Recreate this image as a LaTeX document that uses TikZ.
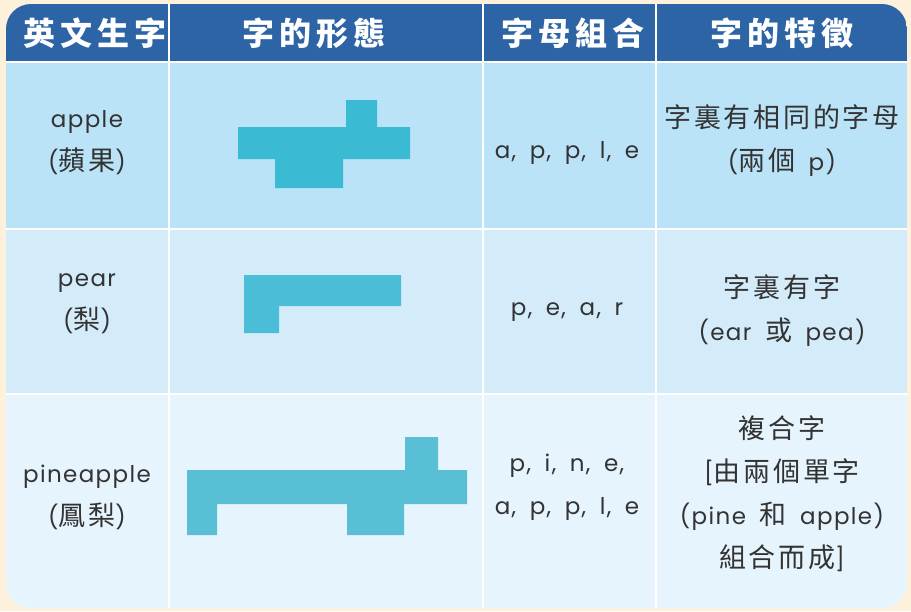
\documentclass[tikz,border=0pt]{standalone}
\usepackage{fontspec}
\setmainfont{Poppins}[LetterSpace=6, WordSpace=1.8]
\newfontfamily\cjk{Noto Sans CJK TC}[LetterSpace=10]
\newfontfamily\cjkhdr{Noto Sans CJK TC}[LetterSpace=15]
\newcommand\zh[1]{{\cjk\fontsize{27}{43}\selectfont #1}}
\definecolor{bgcream}{HTML}{FDF1DC}
\definecolor{hdrblue}{HTML}{2D64A5}
\definecolor{rowa}{HTML}{BBE3F8}
\definecolor{rowb}{HTML}{D4ECFA}
\definecolor{rowc}{HTML}{E6F5FD}
\definecolor{shapea}{HTML}{3BBAD4}
\definecolor{shapeb}{HTML}{4BBDD6}
\definecolor{shapec}{HTML}{58BFD4}
\definecolor{txt}{HTML}{333333}
\tikzset{
  hdr/.style={text=white, font=\cjkhdr\bfseries\fontsize{32}{36}\selectfont, inner sep=0pt},
  cell/.style={text=txt, align=center, inner sep=0pt, font=\fontsize{23}{43}\selectfont},
  sepline/.style={draw=white, line width=2pt}
}
\begin{document}
\begin{tikzpicture}[x=1pt,y=-1pt]
\useasboundingbox (0,0) rectangle (911,611);
\fill[bgcream] (0,0) rectangle (911,611);
\begin{scope}
\clip[rounded corners=25pt] (6,4) rectangle (907,608);
\fill[hdrblue] (6,4) rectangle (907,62);
\fill[rowa] (6,62) rectangle (907,229);
\fill[rowb] (6,229) rectangle (907,394);
\fill[rowc] (6,394) rectangle (907,608);
% separators
\draw[sepline] (6,62) -- (907,62);
\draw[sepline] (6,229) -- (907,229);
\draw[sepline] (6,394) -- (907,394);
\draw[sepline] (169,4) -- (169,608);
\draw[sepline] (483,4) -- (483,608);
\draw[sepline] (656,4) -- (656,608);
\end{scope}
% header
\node[hdr] (h1) at (95,33) {英文生字};
\node[hdr] (h2) at (314,33) {字的形態};
\node[hdr] (h3) at (573,33) {字母組合};
\node[hdr] (h4) at (782,33) {字的特徵};
% shapes
\fill[shapea] (238,127) -- (346,127) -- (346,100) -- (377,100) -- (377,127) -- (410,127)
  -- (410,159) -- (343,159) -- (343,188) -- (275,188) -- (275,159) -- (238,159) -- cycle;
\fill[shapeb] (244,275) -- (401,275) -- (401,306) -- (279,306) -- (279,333) -- (244,333) -- cycle;
\fill[shapec] (187,470) -- (405,470) -- (405,437) -- (438,437) -- (438,470) -- (467,470)
  -- (467,504) -- (404,504) -- (404,535) -- (347,535) -- (347,504) -- (217,504)
  -- (217,535) -- (187,535) -- cycle;
% column 1
\node[cell] (w1) at (87,143) {apple\\(\zh{蘋果})};
\node[cell] (w2) at (87,304) {pear\\(\zh{梨})};
\node[cell] (w3) at (87,497) {pineapple\\(\zh{鳳梨})};
% column 3
\node[cell] (l1) at (567,153) {a, p, p, l, e};
\node[cell] (l2) at (567,312) {p, e, a, r};
\node[cell] (l3) at (567,487) {p, i, n, e,\\a, p, p, l, e};
% column 4
\node[cell] (f1) at (782,141) {\zh{字裏有相同的字母}\\(\zh{兩個} p)};
\node[cell] (f2) at (782,311) {\zh{字裏有字}\\(ear \zh{或} pea)};
\node[cell] (f3) at (782,494) {\zh{複合字}\\{[}\zh{由兩個單字}\\(pine \zh{和} apple)\\\zh{組合而成}]};
\end{tikzpicture}
\end{document}
